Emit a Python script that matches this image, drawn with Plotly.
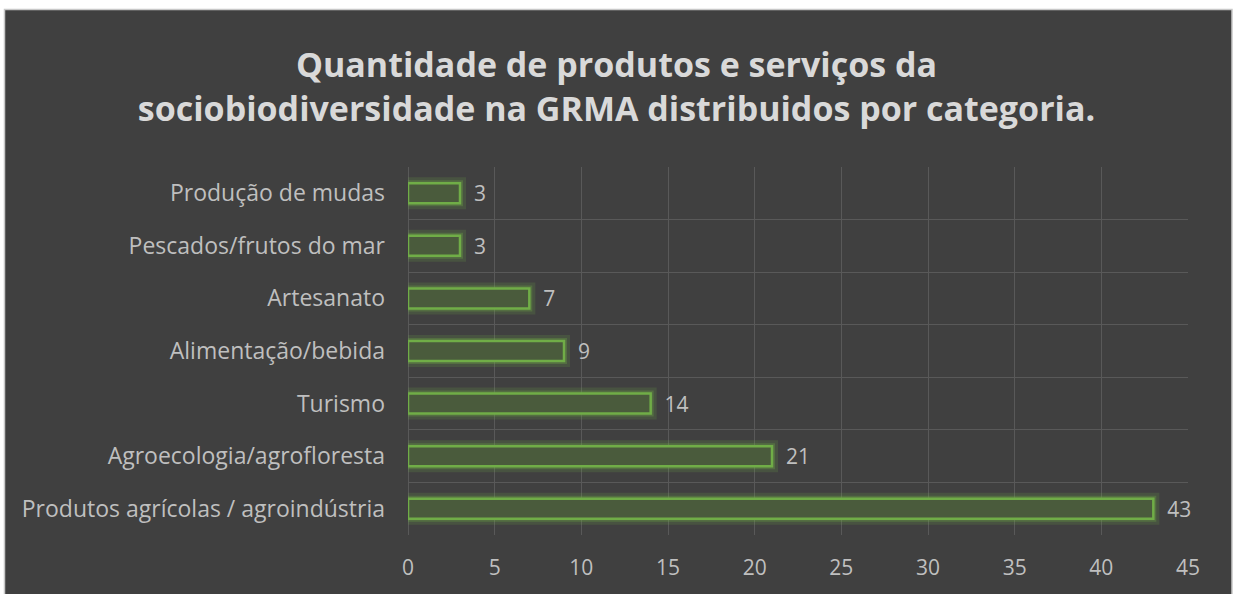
import plotly.graph_objects as go

categories = [
    "Produtos agrícolas / agroindústria",
    "Agroecologia/agrofloresta",
    "Turismo",
    "Alimentação/bebida",
    "Artesanato",
    "Pescados/frutos do mar",
    "Produção de mudas",
]
values = [43, 21, 14, 9, 7, 3, 3]
x_ticks = [0, 5, 10, 15, 20, 25, 30, 35, 40, 45]

title_text = ("Quantidade de produtos e serviços da<br>"
              "sociobiodiversidade na GRMA distribuidos por categoria.")

W, H = 1233, 594
L, R, T, B = 408, 45, 167, 59
pw, ph = W - L - R, H - T - B

def px_x(p):
    return (p - L) / pw

def px_y(p):
    return 1 - (p - T) / ph

BG = "#404040"
GRID = "#595959"
TXT = "#bfbfbf"
GREEN = "#70ad47"
FONT = "Open Sans"
FS = 21

fig = go.Figure()

# glow layers
fig.add_trace(go.Bar(
    x=values, y=categories, orientation="h", width=0.38,
    marker=dict(color="rgba(0,0,0,0)", line=dict(color="rgba(112,173,71,0.18)", width=12)),
    hoverinfo="skip", showlegend=False,
))
fig.add_trace(go.Bar(
    x=values, y=categories, orientation="h", width=0.38,
    marker=dict(color="rgba(0,0,0,0)", line=dict(color="rgba(112,173,71,0.3)", width=6)),
    hoverinfo="skip", showlegend=False,
))
# main bars
fig.add_trace(go.Bar(
    x=values, y=categories, orientation="h", width=0.38,
    marker=dict(color="#4a5b3c", line=dict(color=GREEN, width=2.5)),
    text=values, texttemplate="\u00a0\u00a0%{x}", textposition="outside",
    constraintext="none",
    textfont=dict(family=FONT, size=FS, color=TXT),
    cliponaxis=False, showlegend=False,
))

fig.update_layout(
    width=W, height=H,
    barmode="overlay",
    margin=dict(l=L, r=R, t=T, b=B, autoexpand=False),
    paper_bgcolor="#ffffff",
    plot_bgcolor=BG,
    title=dict(
        text=title_text, x=0.5, xref="container", xanchor="center",
        y=1 - 77 / H, yref="container", yanchor="middle",
        font=dict(family=FONT, size=34, color="#d9d9d9", weight="bold"),
    ),
    font=dict(family=FONT, size=FS, color=TXT),
    shapes=[dict(
        type="rect", xref="paper", yref="paper", layer="below",
        x0=px_x(4.5), x1=px_x(1232), y0=px_y(605), y1=px_y(9.5),
        fillcolor=BG, line=dict(color="#c8c8c8", width=1.5),
    )],
    xaxis=dict(
        range=[0, 45], tickvals=x_ticks, showgrid=True, gridcolor=GRID, gridwidth=1,
        zeroline=True, zerolinecolor=GRID, zerolinewidth=1,
        showline=False, ticks="", ticklabelstandoff=18,
        tickfont=dict(family=FONT, size=FS, color=TXT),
    ),
    yaxis=dict(
        type="category", categoryorder="array", categoryarray=categories,
        tickson="boundaries", showgrid=True, gridcolor=GRID, gridwidth=1,
        showline=False, ticks="", ticklabelstandoff=22,
        tickfont=dict(family=FONT, size=23, color=TXT),
    ),
)

fig.write_html("out.html", config={"displayModeBar": False},
               post_script="document.body.style.margin='0';")
